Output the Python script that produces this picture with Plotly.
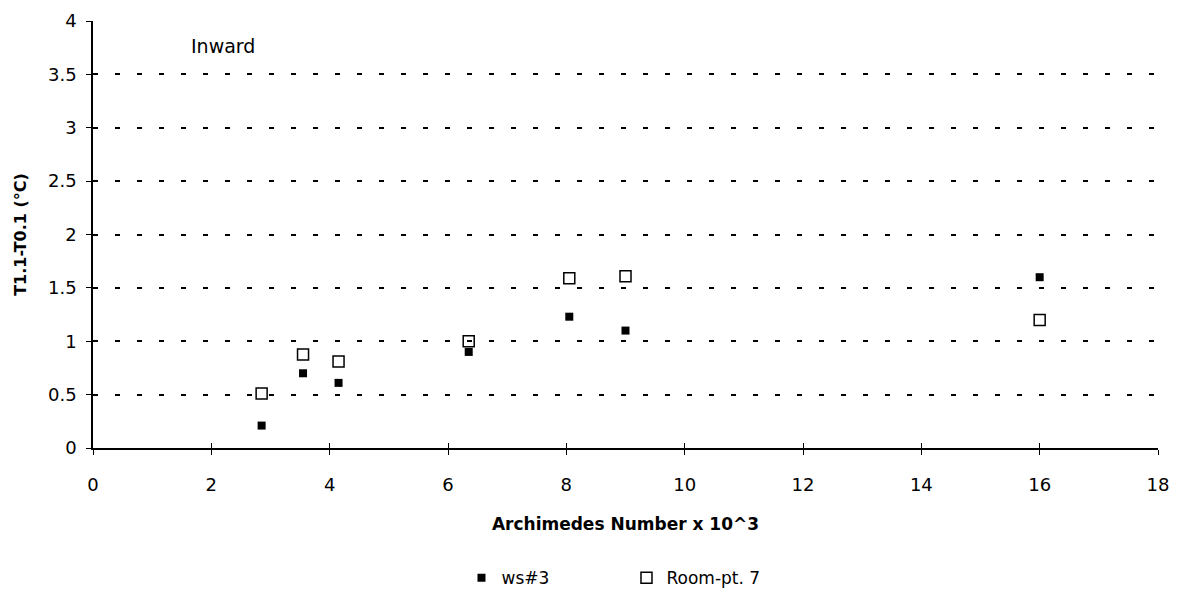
import plotly.graph_objects as go

# Archimedes number (x 10^3) for each run
archimedes = [2.85, 3.55, 4.15, 6.35, 8.05, 9.0, 16.0]
# Temperature difference T1.1 - T0.1 (°C)
ws3 = [0.21, 0.70, 0.61, 0.90, 1.23, 1.10, 1.60]
room_pt7 = [0.51, 0.875, 0.81, 1.00, 1.59, 1.61, 1.20]

x_ticks = list(range(0, 19, 2))
y_ticks = [0, 0.5, 1, 1.5, 2, 2.5, 3, 3.5, 4]

FONT = "'DejaVu Sans', sans-serif"

fig = go.Figure()
fig.add_trace(go.Scatter(
    x=archimedes, y=ws3, mode="markers", name="ws#3",
    marker=dict(symbol="square", size=8, color="black"),
))
fig.add_trace(go.Scatter(
    x=archimedes, y=room_pt7, mode="markers", name="Room-pt. 7",
    marker=dict(symbol="square-open", size=11, color="black", line=dict(width=1.5)),
))
# invisible trace on the overlay axes that carry the inner half of the cross ticks
fig.add_trace(go.Scatter(
    x=[0], y=[0], xaxis="x2", yaxis="y2", mode="markers",
    marker=dict(opacity=0), showlegend=False, hoverinfo="skip",
))

fig.add_annotation(
    x=2.2, y=3.77, text="Inward", showarrow=False,
    font=dict(family=FONT, size=19, color="black"),
)

axis_common = dict(
    showline=True, linecolor="black", linewidth=1.5,
    ticks="outside", ticklen=5, tickwidth=1, tickcolor="black",
    zeroline=False,
    tickfont=dict(family=FONT, size=18, color="black"),
)

fig.update_layout(
    width=1178, height=596,
    margin=dict(l=93, r=20, t=21, b=148, autoexpand=False),
    paper_bgcolor="white", plot_bgcolor="white",
    font=dict(family=FONT, color="black"),
    xaxis=dict(
        range=[0, 18], tickvals=x_ticks, showgrid=False,
        ticklabelstandoff=15,
        title=dict(text="<b>Archimedes Number x 10^3</b>", standoff=24,
                   font=dict(family=FONT, size=17, color="black")),
        **axis_common,
    ),
    yaxis=dict(
        range=[0, 4], tickvals=y_ticks,
        showgrid=True, gridcolor="black", gridwidth=1.5, griddash="5px,17px",
        ticklabelstandoff=6,
        title=dict(text="<b>T1.1-T0.1 (°C)</b>", standoff=17,
                   font=dict(family=FONT, size=16, color="black")),
        **axis_common,
    ),
    xaxis2=dict(
        overlaying="x", anchor="y2", range=[0, 18], tickvals=x_ticks,
        ticks="inside", ticklen=5, tickcolor="black", showticklabels=False,
        showgrid=False, zeroline=False, showline=False,
    ),
    yaxis2=dict(
        overlaying="y", anchor="x2", range=[0, 4], tickvals=y_ticks,
        ticks="inside", ticklen=5, tickcolor="black", showticklabels=False,
        showgrid=False, zeroline=False, showline=False,
    ),
    legend=dict(
        orientation="h", x=0.346, xanchor="left",
        y=0.03, yref="container", yanchor="middle",
        font=dict(family=FONT, size=17, color="black"),
        itemwidth=30, entrywidth=120, entrywidthmode="pixels",
    ),
)

fig.write_html("out.html")
